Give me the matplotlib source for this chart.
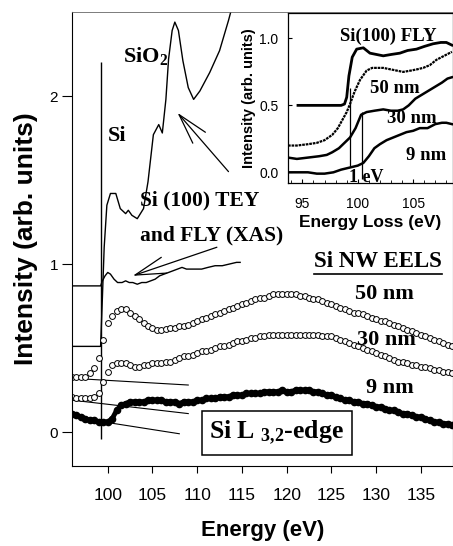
import numpy as np
import matplotlib
matplotlib.use("Agg")
import matplotlib.pyplot as plt
from matplotlib.lines import Line2D

plt.rcParams["mathtext.fontset"] = "custom"
plt.rcParams["mathtext.rm"] = "Liberation Serif:bold"
plt.rcParams["mathtext.it"] = "Liberation Serif:bold"
plt.rcParams["mathtext.bf"] = "Liberation Serif:bold"

SANS = "Liberation Sans"
SERIF = "Liberation Serif"

# ── main panel data ──────────────────────────────────────────────────────────
eels_e = np.arange(96.0, 138.51, 0.5)   # 0.5 eV grid, 96 .. 138.5

nm50 = [0.33, 0.33, 0.33, 0.33, 0.35, 0.38, 0.44, 0.55, 0.65, 0.69,
        0.72, 0.73, 0.73, 0.71, 0.69, 0.67, 0.65, 0.63, 0.62, 0.61,
        0.61, 0.615, 0.62, 0.62, 0.63, 0.63, 0.64, 0.65, 0.66, 0.67,
        0.68, 0.69, 0.70, 0.71, 0.72, 0.73, 0.74, 0.75, 0.76, 0.77,
        0.78, 0.79, 0.80, 0.80, 0.81, 0.82, 0.82, 0.82, 0.82, 0.82,
        0.82, 0.81, 0.81, 0.80, 0.79, 0.79, 0.78, 0.77, 0.76, 0.75,
        0.74, 0.73, 0.72, 0.71, 0.71, 0.70, 0.69, 0.68, 0.67, 0.66,
        0.66, 0.65, 0.64, 0.63, 0.62, 0.61, 0.60, 0.59, 0.58, 0.57,
        0.56, 0.55, 0.54, 0.53, 0.52, 0.51]

nm30 = [0.21, 0.20, 0.20, 0.20, 0.20, 0.21, 0.23, 0.30, 0.36, 0.40,
        0.41, 0.41, 0.41, 0.40, 0.39, 0.39, 0.40, 0.40, 0.41, 0.41,
        0.41, 0.42, 0.42, 0.43, 0.44, 0.45, 0.45, 0.46, 0.47, 0.48,
        0.48, 0.49, 0.50, 0.51, 0.51, 0.52, 0.53, 0.54, 0.54, 0.55,
        0.56, 0.56, 0.57, 0.57, 0.58, 0.58, 0.58, 0.58, 0.58, 0.58,
        0.58, 0.58, 0.58, 0.58, 0.58, 0.58, 0.57, 0.57, 0.57, 0.56,
        0.55, 0.54, 0.53, 0.52, 0.51, 0.50, 0.49, 0.48, 0.47, 0.46,
        0.45, 0.44, 0.43, 0.42, 0.42, 0.41, 0.40, 0.40, 0.39, 0.39,
        0.38, 0.37, 0.37, 0.36, 0.36, 0.35]

nm9 = [0.11, 0.10, 0.09, 0.08, 0.07, 0.07, 0.06, 0.06, 0.06, 0.08,
       0.13, 0.16, 0.17, 0.18, 0.18, 0.18, 0.18, 0.19, 0.19, 0.19,
       0.19, 0.18, 0.18, 0.18, 0.17, 0.18, 0.18, 0.18, 0.19, 0.19,
       0.20, 0.20, 0.20, 0.21, 0.21, 0.21, 0.22, 0.22, 0.22, 0.23,
       0.23, 0.23, 0.23, 0.24, 0.24, 0.24, 0.24, 0.25, 0.24, 0.24,
       0.25, 0.25, 0.25, 0.25, 0.24, 0.24, 0.23, 0.22, 0.22, 0.21,
       0.20, 0.19, 0.19, 0.18, 0.18, 0.17, 0.17, 0.16, 0.15, 0.15,
       0.14, 0.13, 0.13, 0.12, 0.11, 0.11, 0.10, 0.09, 0.09, 0.08,
       0.07, 0.06, 0.06, 0.05, 0.05, 0.04]

# Si(100) XAS, thin lines
tey_e = [96.0, 99.2, 99.4, 99.6, 99.9, 100.3, 100.9, 101.4, 102.0, 102.3,
         102.7, 103.3, 104.0, 104.5, 105.1, 105.7, 106.1, 106.5, 106.8,
         107.2, 107.5, 107.9, 108.4, 109.0, 109.6, 110.3, 111.4, 112.5,
         113.5, 114.0]
tey = [0.51, 0.51, 0.80, 1.10, 1.35, 1.42, 1.42, 1.33, 1.30, 1.32,
       1.29, 1.27, 1.33, 1.49, 1.77, 1.83, 1.78, 1.98, 2.22,
       2.39, 2.44, 2.39, 2.21, 2.05, 1.98, 2.03, 2.14, 2.27,
       2.45, 2.55]

fly_e = [96.0, 99.2, 99.4, 99.7, 100.0, 100.3, 100.7, 101.1, 101.6, 102.0,
         102.4, 102.8, 103.3, 103.8, 104.3, 104.8, 105.3, 105.8, 106.3,
         106.8, 107.3, 107.8, 108.3, 108.8, 109.3, 109.8, 110.5, 111.2,
         112.0, 112.8, 113.6, 114.4, 114.8]
fly = [0.87, 0.87, 0.90, 0.93, 0.95, 0.94, 0.91, 0.89, 0.89, 0.90,
       0.89, 0.89, 0.88, 0.89, 0.89, 0.90, 0.91, 0.93, 0.94,
       0.95, 0.96, 0.97, 0.98, 0.97, 0.97, 0.97, 0.97, 0.98,
       0.99, 0.99, 1.00, 1.01, 1.01]

edge_e = 99.3
edge_span = [-0.04, 2.2]

# pre-edge background fits
bg_e = [96.0, 109.0]
bg50 = [0.32, 0.28]
bg30 = [0.19, 0.11]
bg9_e = [96.0, 108.0]
bg9 = [0.09, -0.01]

# ── inset data ───────────────────────────────────────────────────────────────
in_fly_e = [94.6, 95.5, 96.5, 97.5, 98.5, 98.8, 99.0, 99.2, 99.5, 99.9,
            100.5, 101.1, 101.7, 102.3, 103.0, 103.8, 104.5, 105.3, 106.0,
            106.8, 107.5, 108.0, 108.5]
in_fly = [0.50, 0.50, 0.50, 0.50, 0.50, 0.51, 0.56, 0.72, 0.86, 0.92,
          0.93, 0.89, 0.88, 0.87, 0.88, 0.89, 0.91, 0.92, 0.94,
          0.96, 0.97, 0.97, 0.95]

in50_e = [93.7, 94.5, 95.5, 96.3, 97.0, 97.7, 98.2, 98.6, 99.0, 99.3,
          99.7, 100.2, 100.8, 101.3, 101.7, 102.3, 102.9, 103.5, 104.1,
          104.8, 105.4, 105.9, 106.5, 107.1, 107.8, 108.5]
in50 = [0.20, 0.20, 0.21, 0.22, 0.24, 0.28, 0.33, 0.39, 0.45, 0.51,
        0.60, 0.69, 0.76, 0.78, 0.78, 0.78, 0.77, 0.76, 0.75,
        0.76, 0.77, 0.78, 0.80, 0.84, 0.87, 0.90]

in30_e = [93.7, 94.5, 95.5, 96.5, 97.2, 97.7, 98.3, 98.8, 99.3, 99.8,
          100.3, 100.8, 101.5, 102.3, 103.0, 103.6, 104.1, 104.6, 105.2,
          105.8, 106.4, 107.0, 107.6, 108.1, 108.5]
in30 = [0.11, 0.10, 0.11, 0.12, 0.13, 0.15, 0.18, 0.22, 0.26, 0.33,
        0.43, 0.45, 0.46, 0.47, 0.46, 0.46, 0.47, 0.50, 0.55,
        0.58, 0.61, 0.64, 0.67, 0.70, 0.71]

in9_e = [93.7, 94.5, 95.5, 96.3, 97.0, 97.8, 98.5, 99.0, 99.5, 100.0,
         100.5, 101.0, 101.5, 102.0, 102.6, 103.2, 103.8, 104.4, 105.0,
         105.6, 106.3, 107.0, 107.6, 108.0, 108.5]
in9 = [0.00, 0.00, 0.00, -0.01, -0.01, 0.00, 0.02, 0.03, 0.04, 0.05,
       0.07, 0.12, 0.18, 0.21, 0.24, 0.26, 0.28, 0.30, 0.31,
       0.33, 0.33, 0.36, 0.37, 0.37, 0.36]

in_marks_e = [99.3, 100.35]
in_marks_lo = [0.05, -0.05]
in_marks_hi = [0.63, 0.45]

# ── figure ───────────────────────────────────────────────────────────────────
fig = plt.figure(figsize=(4.53, 5.46), dpi=100)
ax = fig.add_axes([0.1589, 0.1465, 0.8411, 0.8315])

ax.plot(bg_e, bg50, color="k", lw=0.8)
ax.plot(bg_e, bg30, color="k", lw=0.8)
ax.plot(bg9_e, bg9, color="k", lw=0.8)
ax.vlines(edge_e, edge_span[0], edge_span[1], color="k", lw=1.0)

ax.plot(fly_e, fly, color="k", lw=1.0)
ax.plot(tey_e, tey, color="k", lw=1.0)

ax.plot(eels_e, nm50, "o", color="k", ms=4.2, mfc="white", mec="k", mew=0.7)
ax.plot(eels_e, nm30, "o", color="k", ms=4.2, mfc="white", mec="k", mew=0.7)
ax.plot(eels_e, nm9, "o-", color="k", ms=4.5, lw=3.5)

ax.set_xlim(96.0, 138.6)
ax.set_ylim(-0.202, 2.5)
ax.set_xticks([100, 105, 110, 115, 120, 125, 130, 135])
ax.set_yticks([0, 1, 2])
ax.tick_params(axis="x", direction="out", length=5, width=0.8, pad=11,
               labelsize=12.5)
ax.tick_params(axis="y", direction="out", length=7, width=0.8, pad=3,
               labelsize=11)
for lab in ax.get_xticklabels() + ax.get_yticklabels():
    lab.set_fontfamily(SANS)
for s in ax.spines.values():
    s.set_linewidth(0.8)
ax.spines["top"].set_color("#666666")
ax.spines["top"].set_linewidth(0.6)

ax.set_xlabel("Energy (eV)", fontsize=16, fontweight="bold", family=SANS,
              labelpad=12)
ax.set_ylabel("Intensity (arb. units)", fontsize=19, fontweight="bold",
              family=SANS, labelpad=8)

lbl = dict(family=SERIF, fontweight="bold", va="baseline", ha="left")
ax.text(101.7, 2.20, "SiO$_2$", fontsize=16, **lbl)
ax.text(100.0, 1.73, "Si", fontsize=16, **lbl)
ax.text(103.6, 1.35, "Si (100) TEY", fontsize=15.5, **lbl)
ax.text(103.6, 1.14, "and FLY (XAS)", fontsize=15.5, **lbl)
eels_title = ax.text(123.1, 0.98, "Si NW EELS", fontsize=16.5, **lbl)
ax.text(127.6, 0.79, "50 nm", fontsize=16, **lbl)
ax.text(127.9, 0.52, "30 nm", fontsize=16, **lbl)
ax.text(128.9, 0.23, "9 nm", fontsize=16, **lbl)
ax.text(118.9, -0.005, r"Si L $_{3{,}2}$-edge", fontsize=18.5, family=SERIF,
        fontweight="bold", ha="center", va="center",
        bbox=dict(boxstyle="square,pad=0.3", fc="white", ec="k", lw=1.1))

arrow = dict(arrowstyle="->,head_length=2.2,head_width=0.6", color="k",
             lw=0.9, shrinkA=0, shrinkB=0)
ax.annotate("", xy=(107.8, 1.90), xytext=(113.5, 1.55), arrowprops=arrow)
ax.annotate("", xy=(102.8, 0.93), xytext=(112.2, 1.10), arrowprops=arrow)

# ── inset ────────────────────────────────────────────────────────────────────
ins = fig.add_axes([0.6358, 0.6648, 0.3642, 0.3114])
ins.set_facecolor("white")
ins.plot(in_fly_e, in_fly, color="k", lw=2.0)
ins.plot(in50_e, in50, color="k", lw=1.6, ls=(0, (1.2, 0.4)))
ins.plot(in30_e, in30, color="k", lw=1.8)
ins.plot(in9_e, in9, color="k", lw=1.8)
ins.vlines(in_marks_e, in_marks_lo, in_marks_hi, color="k", lw=0.9)

ins.set_xlim(93.7, 108.6)
ins.set_ylim(-0.08, 1.19)
ins.set_xticks([95, 100, 105])
ins.set_xticks(np.arange(94, 109, 1), minor=True)
ins.set_yticks([0.0, 0.5, 1.0])
ins.set_yticklabels(["0.0", "0.5", "1.0"])
ins.tick_params(which="major", direction="in", length=3, width=0.8,
                labelsize=10, pad=7)
ins.tick_params(axis="x", which="major", pad=10)
ins.tick_params(which="minor", direction="in", length=2, width=0.6)
for lab in ins.get_xticklabels() + ins.get_yticklabels():
    lab.set_fontfamily(SANS)
for s in ins.spines.values():
    s.set_linewidth(0.9)
ins.set_xlabel("Energy Loss (eV)", fontsize=12.5, fontweight="bold",
               family=SANS, labelpad=3)
ins.set_ylabel("Intensity (arb. units)", fontsize=10.5, fontweight="bold",
               family=SANS, labelpad=2)

ins.text(98.4, 0.985, "Si(100) FLY", fontsize=13.5, **lbl)
ins.text(101.1, 0.59, "50 nm", fontsize=13.5, **lbl)
ins.text(102.6, 0.37, "30 nm", fontsize=13.5, **lbl)
ins.text(104.4, 0.09, "9 nm", fontsize=13.5, **lbl)
ins.text(99.25, -0.07, "1 eV", fontsize=13, **lbl)

# underline for the EELS heading
fig.canvas.draw()
bb = eels_title.get_window_extent()
fig.add_artist(Line2D([bb.x0, bb.x1], [bb.y0 - 2, bb.y0 - 2],
                      transform=None, color="k", lw=1.2))

fig.savefig("out.png", dpi=100)
